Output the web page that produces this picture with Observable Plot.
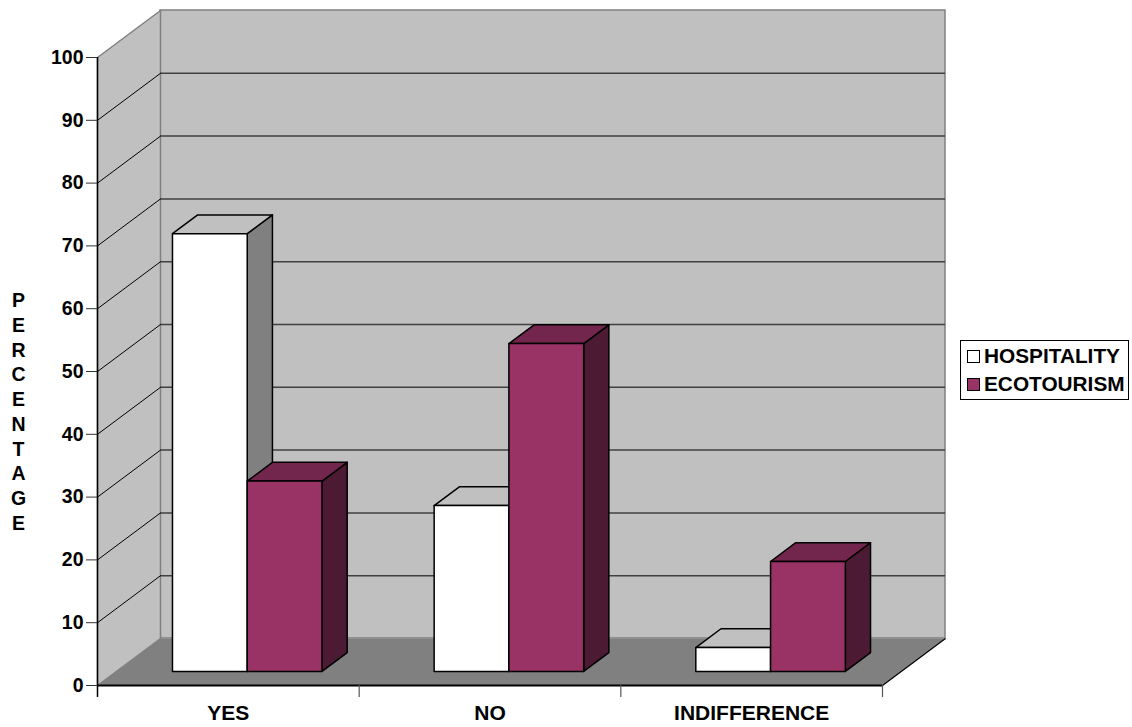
<!DOCTYPE html>
<html>
<head>
<meta charset="utf-8">
<script src="https://cdn.jsdelivr.net/npm/d3@7"></script>
<script src="https://cdn.jsdelivr.net/npm/@observablehq/plot@0.6"></script>
<style>
  body { margin: 0; background: #fff; font-family: "Liberation Sans", Arial, sans-serif; }
  #wrap { position: relative; width: 1132px; height: 727px; }
  #legend { position: absolute; left: 960px; top: 340px; width: 167px; height: 58px; border: 1px solid #000; background: #fff; font-weight: bold; font-size: 20.8px; }
  .row { position: absolute; left: 6px; display: flex; align-items: center; }
  .sw { width: 13px; height: 13px; border: 1px solid #000; margin-right: 4px; box-sizing: border-box; }
</style>
</head>
<body>
<div id="wrap"></div>
<script>
// ---- data ----
const categories = ["YES", "NO", "INDIFFERENCE"];
const seriesNames = ["HOSPITALITY", "ECOTOURISM"];
const hospitality = [69.7, 26.4, 3.8];
const ecotourism = [30.3, 52.2, 17.5];
const yTicks = [0, 10, 20, 30, 40, 50, 60, 70, 80, 90, 100];
const gridValues = [10, 20, 30, 40, 50, 60, 70, 80, 90];

// ---- style / geometry constants ----
const W = 1132, H = 727;
const mL = 97, mR = 250, mT = 57, mB = 42;
const pxPerX = (W - mL - mR) / categories.length;
const pxPerY = (H - mT - mB) / 100;
const DX = 63 / pxPerX;   // depth offset in x units
const DY = 47 / pxPerY;   // depth offset in y units
const TICK = 12 / pxPerY; // category tick length in y units
const BW = 1 / 3.5, GAP = 0.75 * BW;
const D0 = 0.3, D1 = 0.7;
const palettes = [
  {front: "#ffffff", top: "#c0c0c0", side: "#808080"},
  {front: "#993366", top: "#73264d", side: "#4d1a33"}
];
const P = (x, v, d) => ({x: x + d * DX, y: v + d * DY});

const faces = [];
function addFace(id, fill, pts) {
  pts.concat([pts[0]]).forEach(p => faces.push({id, fill, x: p.x, y: p.y}));
}
categories.forEach((c, i) => {
  [hospitality[i], ecotourism[i]].forEach((v, s) => {
    const x0 = i + GAP + s * BW, x1 = x0 + BW, pal = palettes[s];
    addFace(`side-${i}-${s}`, pal.side, [P(x1, 0, D0), P(x1, v, D0), P(x1, v, D1), P(x1, 0, D1)]);
    addFace(`top-${i}-${s}`, pal.top, [P(x0, v, D0), P(x1, v, D0), P(x1, v, D1), P(x0, v, D1)]);
    addFace(`front-${i}-${s}`, pal.front, [P(x0, 0, D0), P(x1, 0, D0), P(x1, v, D0), P(x0, v, D0)]);
  });
});

const n = categories.length;
const leftWall = [P(0, 0, 0), P(0, 100, 0), P(0, 100, 1), P(0, 0, 1), P(0, 0, 0)];
const floor = [P(0, 0, 0), P(n, 0, 0), P(n, 0, 1), P(0, 0, 1), P(0, 0, 0)];

const chart = Plot.plot({
  width: W, height: H,
  marginLeft: mL, marginRight: mR, marginTop: mT, marginBottom: mB,
  x: {type: "linear", domain: [0, n], axis: null},
  y: {type: "linear", domain: [0, 100], axis: null},
  color: {type: "identity"},
  style: {fontFamily: "'Liberation Sans', Arial, sans-serif", fontSize: "20px", fontWeight: "bold", color: "#000", background: "transparent", overflow: "visible"},
  marks: [
    // back wall
    Plot.rect([0], {x1: DX, x2: n + DX, y1: DY, y2: 100 + DY, fill: "#c0c0c0", stroke: "#808080", strokeWidth: 1.5}),
    // left wall
    Plot.line(leftWall, {x: "x", y: "y", fill: "#c0c0c0", stroke: "#808080", strokeWidth: 1.5}),
    // back gridlines
    Plot.ruleY(gridValues, {y: v => v + DY, x1: DX, x2: n + DX, stroke: "#404040", strokeWidth: 1.5}),
    // side-wall gridlines
    Plot.link(gridValues, {x1: 0, y1: v => v, x2: DX, y2: v => v + DY, stroke: "#000", strokeWidth: 1}),
    // floor
    Plot.line(floor, {x: "x", y: "y", fill: "#808080", stroke: "none"}),
    Plot.link([0], {x1: n, y1: 0, x2: n + DX, y2: DY, stroke: "#000", strokeWidth: 1.2}),
    Plot.ruleY([0], {x1: 0, x2: n, stroke: "#000", strokeWidth: 2}),
    // axes
    Plot.ruleX([0], {y1: -TICK, y2: 100, stroke: "#000", strokeWidth: 1.5}),
    Plot.ruleX(d3.range(1, n + 1), {x: d => d, y1: -TICK, y2: 0, stroke: "#555", strokeWidth: 1.2}),
    Plot.axisY({ticks: yTicks, tickSize: 11, tickPadding: 3, stroke: "#333", label: null, fontSize: 19.5, fontWeight: "bold"}),
    // bars (side, top, front per bar, left to right)
    Plot.line(faces, {x: "x", y: "y", z: "id", fill: "fill", stroke: "#000", strokeWidth: 1.5}),
    // category labels
    Plot.text(categories, {x: (d, i) => i + 0.5, y: 0, dy: 28, text: d => d, fontSize: 21, fontWeight: "bold"}),
    // y label
    Plot.text(["PERCENTAGE".split("").join("\n")], {frameAnchor: "left", dx: -79, dy: 39, text: d => d, textAnchor: "middle", lineHeight: 1.27, fontSize: 19.5, fontWeight: "bold"})
  ]
});
document.getElementById("wrap").appendChild(chart);

const legend = document.createElement("div");
legend.id = "legend";
seriesNames.forEach((name, s) => {
  const row = document.createElement("div");
  row.className = "row";
  row.style.top = (s === 0 ? 3 : 31) + "px";
  const sw = document.createElement("div");
  sw.className = "sw";
  sw.style.background = palettes[s].front;
  const t = document.createElement("span");
  t.textContent = name;
  row.appendChild(sw); row.appendChild(t);
  legend.appendChild(row);
});
document.getElementById("wrap").appendChild(legend);
</script>
</body>
</html>
